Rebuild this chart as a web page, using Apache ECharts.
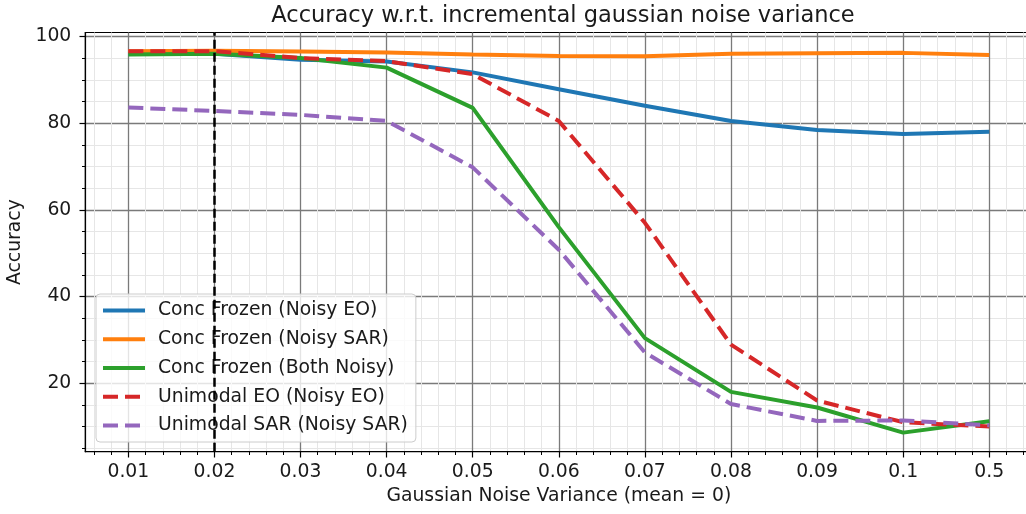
<!DOCTYPE html>
<html>
<head>
<meta charset="utf-8">
<title>Accuracy vs noise</title>
<script src="https://cdn.jsdelivr.net/npm/echarts@6/dist/echarts.min.js"></script>
<style>
  html, body { margin: 0; padding: 0; background: #fff; }
  #chart { width: 1026px; height: 514px; }
</style>
</head>
<body>
<div id="chart"></div>
<script>
// x categories (noise variance)
var categories = ['0.01', '0.02', '0.03', '0.04', '0.05', '0.06', '0.07', '0.08', '0.09', '0.1', '0.5'];
var yTicks = [20, 40, 60, 80, 100];

// accuracy
var concNoisyEO   = [96.0, 96.0, 94.6, 94.2, 91.7, 87.8, 84.0, 80.5, 78.4, 77.5, 78.0];
var concNoisySAR  = [96.6, 96.7, 96.5, 96.3, 95.8, 95.5, 95.4, 96.0, 96.1, 96.2, 95.7];
var concBothNoisy = [95.8, 96.0, 95.0, 92.8, 83.5, 56.0, 30.4, 18.0, 14.4, 8.6, 11.2];
var uniEO         = [96.6, 96.6, 95.0, 94.3, 91.3, 80.5, 57.0, 28.9, 16.0, 11.0, 10.0];
var uniSAR        = [83.6, 82.8, 81.9, 80.5, 69.8, 50.8, 27.1, 15.2, 11.3, 11.4, 10.3];
var markX = 1; // vertical dashed marker at 0.02

var font = 'DejaVu Sans';
var txt = '#1a1a1a';

function pts(arr) {
    return arr.map(function (v, i) { return [i, v]; });
}

var chart = echarts.init(document.getElementById('chart'), null, { renderer: 'canvas' });

function lineSeries(name, data, color, dashed) {
    return {
        name: name,
        type: 'line',
        data: pts(data),
        symbol: 'none',
        color: color,
        lineStyle: {
            color: color,
            width: 4,
            type: dashed ? [15, 7] : 'solid',
            cap: 'butt'
        },
        animation: false,
        silent: true
    };
}

var series = [
    lineSeries('Conc Frozen (Noisy EO)', concNoisyEO, '#1f77b4', false),
    lineSeries('Conc Frozen (Noisy SAR)', concNoisySAR, '#ff7f0e', false),
    lineSeries('Conc Frozen (Both Noisy)', concBothNoisy, '#2ca02c', false),
    lineSeries('Unimodal EO (Noisy EO)', uniEO, '#d62728', true),
    lineSeries('Unimodal SAR (Noisy SAR)', uniSAR, '#9467bd', true)
];
series[0].markLine = {
    silent: true,
    symbol: 'none',
    label: { show: false },
    animation: false,
    lineStyle: { color: '#000', width: 2.5, type: [9, 4] },
    data: [{ xAxis: markX }]
};
series[0].z = 1;

chart.setOption({
    backgroundColor: '#fff',
    animation: false,
    title: {
        text: 'Accuracy w.r.t. incremental gaussian noise variance',
        left: 558,
        top: 0,
        textAlign: 'center',
        textStyle: { fontFamily: font, fontSize: 22.5, fontWeight: 'normal', color: txt }
    },
    grid: {
        left: 85.3,
        top: 32.5,
        width: 947,
        height: 419.2,
        show: true,
        borderColor: '#000',
        borderWidth: 1.2,
        containLabel: false,
        outerBoundsMode: 'none'
    },
    legend: {
        orient: 'vertical',
        left: 96,
        top: 294,
        itemWidth: 42,
        itemHeight: 14,
        itemGap: 8.7,
        padding: [6.6, 8, 6.6, 5],
        backgroundColor: 'rgba(255,255,255,0.8)',
        borderColor: '#cccccc',
        borderWidth: 1,
        borderRadius: 4,
        itemStyle: { opacity: 0, borderWidth: 0 },
        lineStyle: { width: 4 },
        textStyle: {
            fontFamily: font,
            fontSize: 18.8,
            color: txt,
            lineHeight: 20,
            padding: [0, 0, 0, 8]
        },
        data: series.map(function (s) { return s.name; })
    },
    xAxis: {
        type: 'value',
        min: -0.5,
        max: 10.5,
        splitNumber: 11,
        name: 'Gaussian Noise Variance (mean = 0)',
        nameLocation: 'middle',
        nameGap: 35,
        nameTextStyle: { fontFamily: font, fontSize: 18.8, color: txt },
        axisLine: { show: true, onZero: false, lineStyle: { color: '#000', width: 1.2 } },
        axisTick: {
            show: true, inside: false, length: 5.8,
            customValues: categories.map(function (c, i) { return i; }),
            lineStyle: { color: '#000', width: 1.2 }
        },
        minorTick: { show: true, splitNumber: 5, length: 3.3, lineStyle: { color: '#000', width: 1 } },
        axisLabel: {
            margin: 11,
            customValues: categories.map(function (c, i) { return i; }),
            fontFamily: font, fontSize: 18.8, color: txt,
            formatter: function (v) {
                var i = Math.round(v);
                return Math.abs(v - i) < 1e-6 && categories[i] !== undefined ? categories[i] : '';
            }
        },
        splitLine: { show: true, lineStyle: { color: '#7a7a7a', width: 1.3 } },
        minorSplitLine: { show: true, lineStyle: { color: '#e6e6e6', width: 1 } }
    },
    yAxis: {
        type: 'value',
        min: 4.2,
        max: 100.9,
        splitNumber: 5,
        name: 'Accuracy',
        nameLocation: 'middle',
        nameGap: 60,
        nameTextStyle: { fontFamily: font, fontSize: 18.8, color: txt },
        axisLine: { show: true, onZero: false, lineStyle: { color: '#000', width: 1.2 } },
        axisTick: {
            show: true, inside: false, length: 5.8,
            customValues: yTicks,
            lineStyle: { color: '#000', width: 1.2 }
        },
        minorTick: { show: true, splitNumber: 4, length: 3.3, lineStyle: { color: '#000', width: 1 } },
        axisLabel: {
            margin: 14,
            customValues: yTicks,
            fontFamily: font, fontSize: 18.8, color: txt
        },
        splitLine: { show: true, lineStyle: { color: '#7a7a7a', width: 1.3 } },
        minorSplitLine: { show: true, lineStyle: { color: '#e6e6e6', width: 1 } }
    },
    series: series
});
</script>
</body>
</html>
